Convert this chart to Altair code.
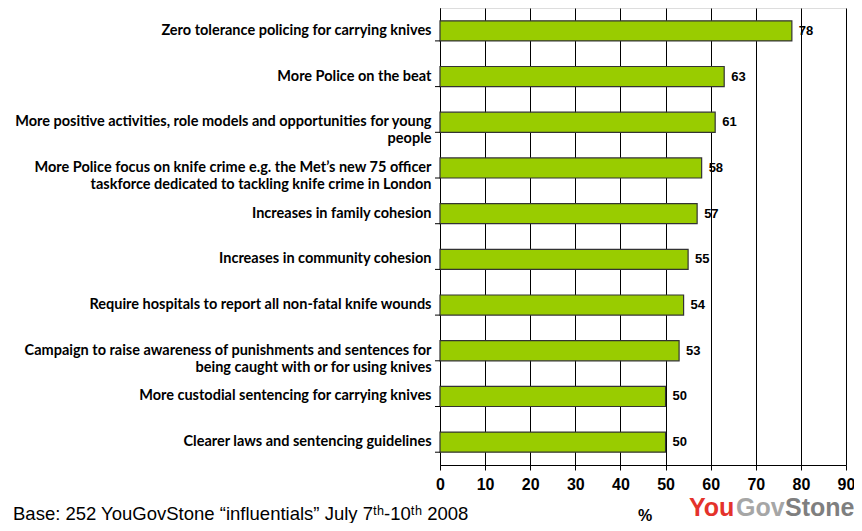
import altair as alt
import pandas as pd

categories = [
    "Zero tolerance policing for carrying knives",
    "More Police on the beat",
    "More positive activities, role models and opportunities for young\npeople",
    "More Police focus on knife crime e.g. the Met\u2019s new 75 officer\ntaskforce dedicated to tackling knife crime in London",
    "Increases in family cohesion",
    "Increases in community cohesion",
    "Require hospitals to report all non-fatal knife wounds",
    "Campaign to raise awareness of punishments and sentences for\nbeing caught with or for using knives",
    "More custodial sentencing for carrying knives",
    "Clearer laws and sentencing guidelines",
]
values = [78, 63, 61, 58, 57, 55, 54, 53, 50, 50]
x_ticks = [0, 10, 20, 30, 40, 50, 60, 70, 80, 90]

footer_text = "Base: 252 YouGovStone \u201cinfluentials\u201d July 7\u1d57\u02b0-10\u1d57\u02b0 2008"
axis_title = "%"
logo_parts = ["You", "Gov", "Stone"]

df = pd.DataFrame({"cat": categories, "val": values})

W, H = 406, 457
PAD_L, PAD_R, PAD_B = 432, 8, 58

y_enc = alt.Y(
    "cat:N",
    sort=categories,
    title=None,
    scale=alt.Scale(paddingInner=0.56, paddingOuter=0.28),
    axis=alt.Axis(
        ticks=False,
        domain=True,
        domainColor="black",
        labelExpr="split(datum.value, '\\n')",
        labelFont="Lato",
        labelFontSize=14.5,
        labelFontWeight="bold",
        labelColor="black",
        labelLimit=460,
        labelPadding=9,
        labelLineHeight=17,
    ),
)
x_enc = alt.X(
    "val:Q",
    title=None,
    scale=alt.Scale(domain=[0, 90], nice=False),
    axis=alt.Axis(
        values=x_ticks,
        grid=True,
        gridColor="black",
        gridOpacity=1,
        gridWidth=1,
        domainColor="black",
        tickColor="black",
        tickSize=5,
        labelFlush=False,
        labelFont="Arial",
        labelFontSize=16,
        labelFontWeight="bold",
        labelColor="black",
        labelPadding=6,
    ),
)

bars = alt.Chart(df).mark_bar(color="#99CC00", stroke="#333333", strokeWidth=1.2).encode(
    y=y_enc, x=x_enc
)
labels = alt.Chart(df).mark_text(
    align="left", baseline="middle", dx=7, font="Arial", fontSize=13, fontWeight="bold", color="black"
).encode(y=alt.Y("cat:N", sort=categories), x="val:Q", text="val:Q")

yticks = alt.Chart(df).mark_rule(color="black", strokeWidth=1).encode(
    y=alt.Y("cat:N", sort=categories, bandPosition=1),
    x=alt.value(-5),
    x2=alt.value(0),
)

footer = alt.Chart(pd.DataFrame({"t": [footer_text]})).mark_text(
    align="left", baseline="alphabetic", font="Arial", fontSize=18.5, color="black"
).encode(text="t:N", x=alt.value(-427), y=alt.value(H + 55))

pct = alt.Chart(pd.DataFrame({"t": [axis_title]})).mark_text(
    align="center", baseline="alphabetic", font="Arial", fontSize=16, fontWeight="bold", color="black"
).encode(text="t:N", x=alt.value(205), y=alt.value(H + 56))

logo_df = pd.DataFrame({"t": logo_parts, "i": [0, 1, 2]})
logo_colors = ["#E4322B", "#A6A6A6", "#7F7F7F"]
logo_x = [249, 296, 345]
logo = alt.layer(*[
    alt.Chart(logo_df[logo_df.i == i]).mark_text(
        align="left", baseline="alphabetic", font="Arial", fontSize=25, fontWeight="bold",
        color=logo_colors[i]
    ).encode(text="t:N", x=alt.value(logo_x[i]), y=alt.value(H + 51))
    for i in range(3)
])

chart = alt.layer(bars, labels, yticks, footer, pct, logo).properties(
    width=W, height=H,
    autosize=alt.AutoSizeParams(type="none"),
    padding={"left": PAD_L, "top": 0, "right": PAD_R, "bottom": PAD_B},
).configure_view(stroke="black", strokeWidth=1).configure(background="white")

chart.save("out.html", embed_options={"renderer": "svg", "actions": False})
